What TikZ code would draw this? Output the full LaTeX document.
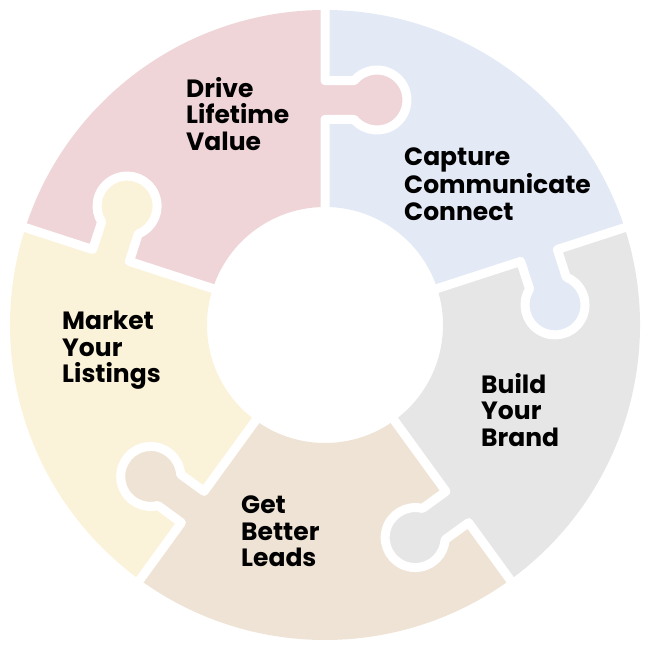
\documentclass[tikz,border=0pt]{standalone}
\usepackage{fontspec}
\setmainfont{Poppins}
\begin{document}
\begin{tikzpicture}[x=1pt,y=1pt,
  lbl/.style={anchor=north west,align=left,font=\fontsize{25}{26.5}\selectfont\bfseries,inner sep=0pt}]
\useasboundingbox (0,0) rectangle (650,650);
\definecolor{cpink}{HTML}{EFD5D8}
\definecolor{cblue}{HTML}{E3EAF5}
\definecolor{cgray}{HTML}{E6E6E6}
\definecolor{cbeige}{HTML}{EEE3D4}
\definecolor{cyel}{HTML}{FBF3D9}
\coordinate (c) at (325,325);
\def\Ri{118}\def\Ro{315}
\foreach \a/\col in {90/cpink,18/cblue,-54/cgray,-126/cbeige,162/cyel}{
  \fill[\col] ([shift={(\a:\Ri)}]c) arc[start angle=\a,end angle=\a+72,radius=\Ri]
     -- ([shift={(\a+72:\Ro)}]c) arc[start angle=\a+72,end angle=\a,radius=\Ro] -- cycle;
}
\foreach \a/\col in {90/cpink,18/cblue,-54/cgray,-126/cbeige,162/cyel}{
  \begin{scope}[shift={(c)},rotate=\a]
  \fill[\col] (203,2) -- (205.7,-29) arc[start angle=130,end angle=410,radius=30] -- (247,2) -- cycle;
  \end{scope}
}
\foreach \a in {90,18,-54,-126,162}{
  \begin{scope}[shift={(c)},rotate=\a]
  \draw[white,line width=9,line join=round] (110,0) -- (205.7,0) -- (205.7,-29)
     arc[start angle=130,end angle=410,radius=30] -- (244.3,0) -- (325,0);
  \end{scope}
}
\node[lbl] (t1) at (186,573) {Drive\\Lifetime\\Value};
\node[lbl] (t2) at (404,502) {Capture\\Communicate\\Connect};
\node[lbl] (t3) at (481,277) {Build\\Your\\Brand};
\node[lbl] (t4) at (241,154) {Get\\Better\\Leads};
\node[lbl] (t5) at (62,339) {Market\\Your\\Listings};
\end{tikzpicture}
\end{document}
